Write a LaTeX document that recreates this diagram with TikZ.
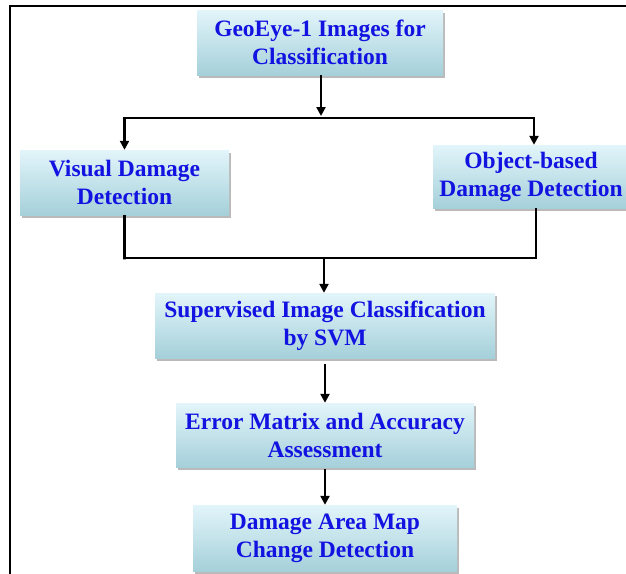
\documentclass[tikz,border=0pt]{standalone}
\usepackage{fontspec}
\setmainfont{Liberation Serif}
\usetikzlibrary{arrows.meta,shadows,calc}
\definecolor{txtblue}{RGB}{18,18,225}
\definecolor{boxtop}{RGB}{226,245,250}
\definecolor{boxbot}{RGB}{165,208,218}
\tikzset{
  stepbox/.style={draw=none, top color=boxtop, bottom color=boxbot,
    align=center, text=txtblue, font=\fontsize{23.5}{28}\selectfont\bfseries,
    inner sep=2pt,
    drop shadow={shadow xshift=2pt, shadow yshift=-3pt, fill=black!45, opacity=0.6}},
  conn/.style={line width=2.8pt, black},
  arr/.style={conn, -{Triangle[length=9pt,width=9pt]}}
}
\begin{document}
\begin{tikzpicture}[x=1pt,y=-1pt]
\useasboundingbox (0,0) rectangle (626,573);
\fill[white] (0,0) rectangle (626,573);
\draw[line width=1.3pt] (10,600) -- (10,6) -- (660,6);

\node[stepbox, minimum width=246pt, minimum height=65pt] (top) at (320,42.5) {GeoEye-1 Images for\\Classification};
\node[stepbox, minimum width=209pt, minimum height=65pt] (vis) at (124.5,182.5) {Visual Damage\\Detection};
\node[stepbox, minimum width=196pt, minimum height=63pt] (obj) at (531,176.5) {Object-based\\Damage Detection};
\node[stepbox, minimum width=340pt, minimum height=65pt] (svm) at (325,325.5) {Supervised Image Classification\\by SVM};
\node[stepbox, minimum width=298pt, minimum height=64pt] (err) at (325,435) {Error Matrix and Accuracy\\Assessment};
\node[stepbox, minimum width=264pt, minimum height=66pt] (dam) at (325,538) {Damage Area Map\\Change Detection};

\coordinate (sl) at (124.5,118);
\coordinate (sr) at (534,118);
\coordinate (ml) at (124.5,258);
\coordinate (mr) at (536,258);
\coordinate (mm) at (324,258);

\draw[arr] (top.south -| 321,0) -- (321,116);
\draw[conn] ([xshift=-1.4pt]sl) -- ([xshift=1.4pt]sr);
\draw[arr] (sl) -- (vis.north);
\draw[arr] (sr) -- (sr |- obj.north);
\draw[conn] (vis.south) -- ([yshift=-1.4pt]ml) -- (ml) -- (mr) -- (mr |- obj.south);
\draw[arr] (mm) -- (mm |- svm.north);
\draw[arr] ([yshift=-6pt]svm.south) -- (err.north);
\draw[arr] ([yshift=-2pt]err.south) -- (dam.north);
\end{tikzpicture}
\end{document}
